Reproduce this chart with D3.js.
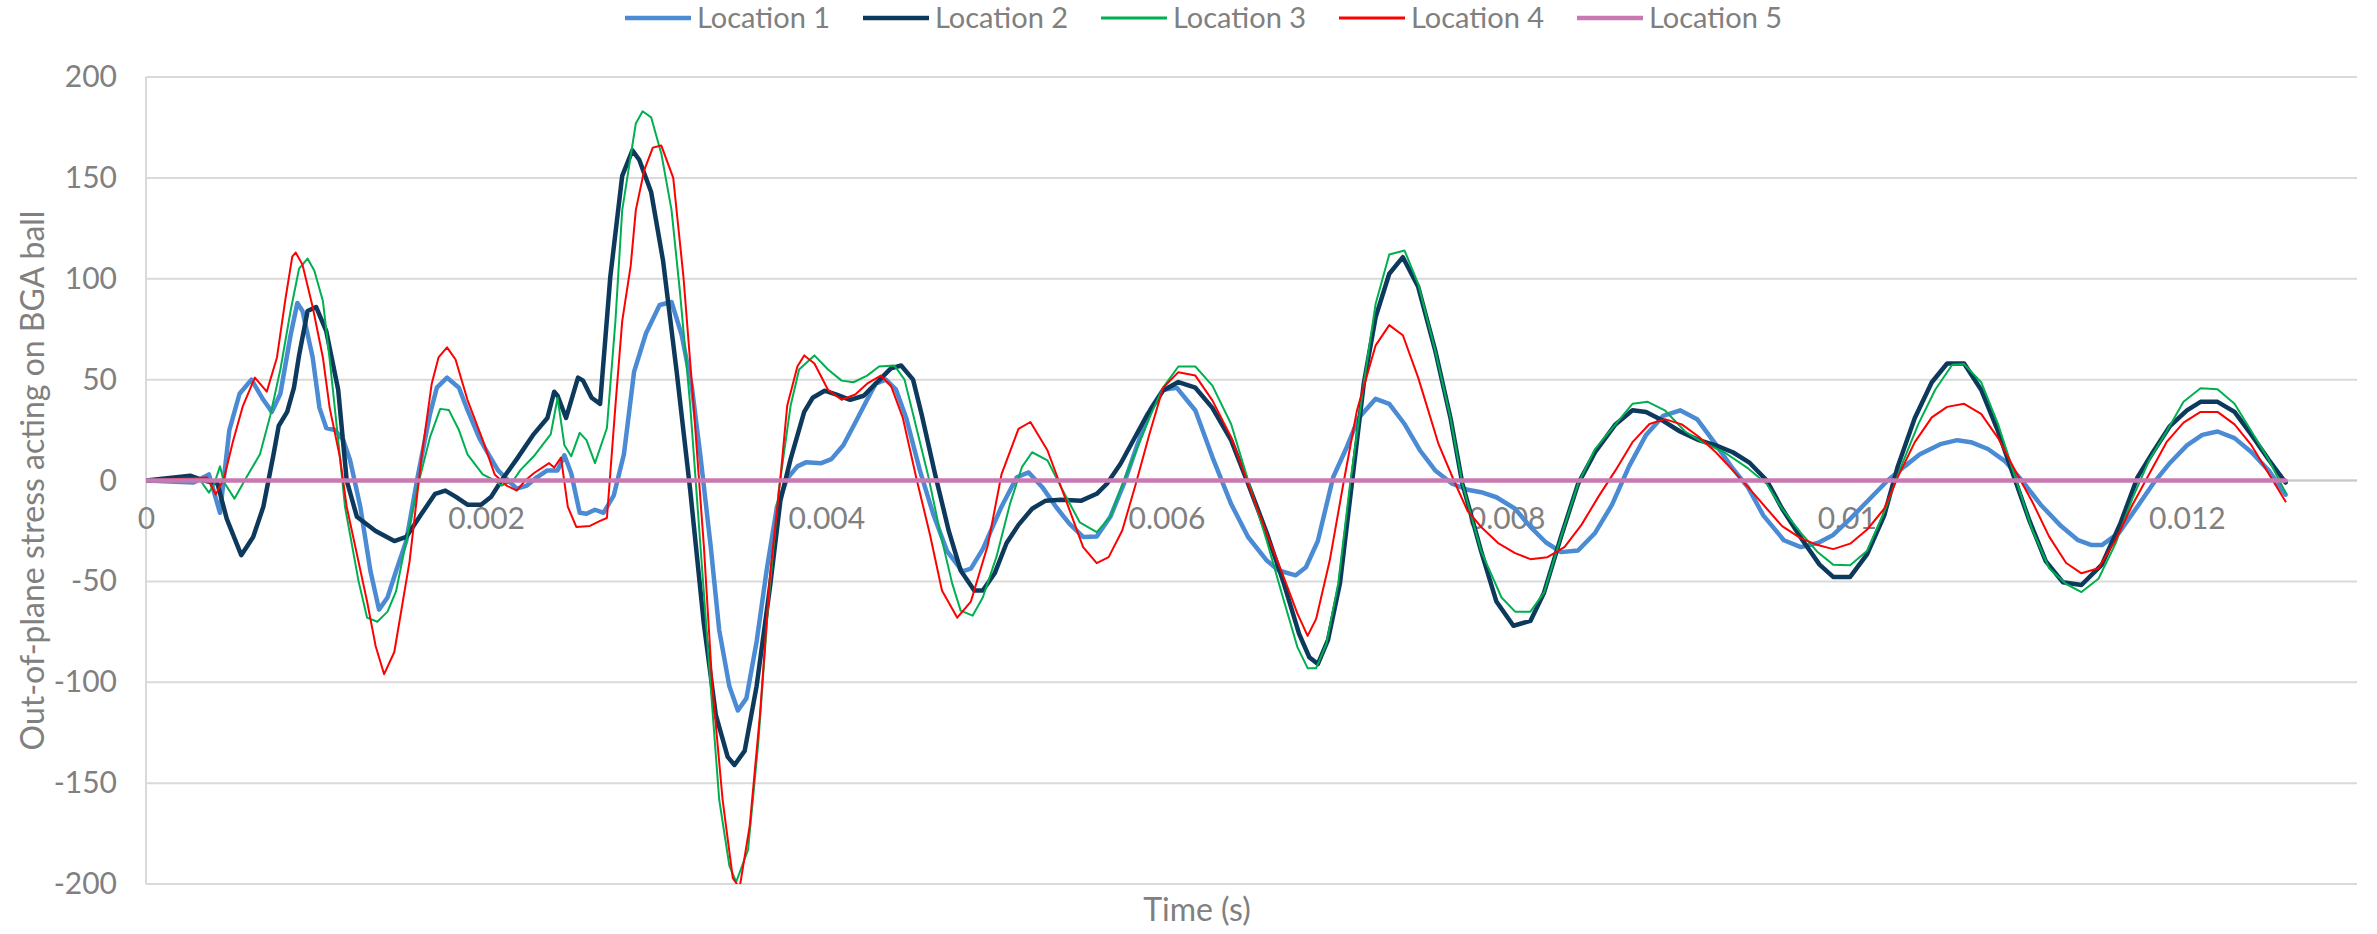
<!DOCTYPE html>
<html>
<head>
<meta charset="utf-8">
<script src="https://cdn.jsdelivr.net/npm/d3@7"></script>
<style>
  html, body { margin: 0; padding: 0; background: #ffffff; }
  svg { display: block; }
  text { font-family: Lato, "Noto Sans", sans-serif; fill: #808080; }
</style>
</head>
<body>
<svg id="chart" width="2377" height="934"></svg>
<script>
// Out-of-plane stress on the BGA ball at five locations, [time (ms), stress]
const location1 = [[0,0],[0.28,-1],[0.37,3],[0.435,-16],[0.49,25],[0.55,43],[0.62,50],[0.69,40],[0.74,34],[0.79,43],[0.85,72],[0.89,88],[0.92,84],[0.98,61],[1.02,36],[1.06,26],[1.11,25],[1.16,20],[1.2,10],[1.26,-13],[1.32,-45],[1.37,-64],[1.42,-58],[1.47,-45],[1.53,-30],[1.6,3],[1.67,33],[1.71,46],[1.77,51],[1.84,46],[1.89,35],[1.96,21],[2.0,15],[2.07,5],[2.13,0],[2.18,-4],[2.24,-2.5],[2.3,1.7],[2.36,5],[2.42,5],[2.46,12.5],[2.5,3.6],[2.55,-16],[2.59,-16.5],[2.64,-14.5],[2.69,-16],[2.75,-7.5],[2.81,13],[2.87,54],[2.94,73],[3.02,87],[3.09,88.5],[3.15,72],[3.21,46],[3.26,12],[3.32,-32.5],[3.37,-74],[3.43,-102],[3.48,-114],[3.53,-108],[3.59,-80],[3.65,-44],[3.71,-13],[3.77,1],[3.83,7],[3.88,9],[3.97,8.6],[4.03,10.6],[4.1,17.5],[4.17,28.6],[4.24,40],[4.29,48],[4.35,50],[4.41,45],[4.47,31],[4.55,5],[4.63,-17],[4.71,-35],[4.8,-45],[4.85,-43.7],[4.92,-34],[5.03,-13],[5.12,1.6],[5.19,4],[5.27,-3.3],[5.35,-13],[5.43,-21.5],[5.51,-28],[5.59,-27.8],[5.67,-18],[5.75,-1.6],[5.83,18],[5.91,36],[5.98,45],[6.06,46],[6.17,34.7],[6.27,11.6],[6.38,-11.6],[6.48,-28],[6.59,-39.7],[6.66,-44.6],[6.76,-47],[6.82,-43],[6.89,-30],[6.98,1.6],[7.06,16.5],[7.13,31],[7.23,40.5],[7.31,38],[7.4,28],[7.49,15],[7.58,5],[7.68,-1.6],[7.77,-4.6],[7.85,-5.8],[7.94,-8.3],[8.05,-14],[8.14,-23],[8.23,-30.6],[8.32,-35.5],[8.42,-34.7],[8.52,-26],[8.62,-12],[8.72,7],[8.82,22.6],[8.92,32],[9.02,34.8],[9.12,30.4],[9.22,19],[9.32,7],[9.42,-3.5],[9.51,-17.4],[9.63,-29.6],[9.73,-33],[9.83,-31],[9.92,-27],[10.02,-19],[10.12,-10.4],[10.24,0],[10.34,7],[10.43,13],[10.55,18],[10.65,20],[10.73,19],[10.83,15.6],[10.93,9.6],[11.03,0],[11.14,-12],[11.26,-22.6],[11.36,-29.6],[11.44,-32],[11.5,-32],[11.6,-26],[11.7,-14],[11.8,-1.7],[11.9,8.7],[12.0,17.4],[12.09,22.6],[12.18,24.3],[12.28,21],[12.38,14],[12.48,5],[12.58,-7]];

const location2 = [[0,0],[0.26,2.4],[0.34,0],[0.42,-1.5],[0.475,-19],[0.56,-37],[0.63,-28],[0.69,-13],[0.75,13],[0.78,27],[0.83,34],[0.87,46],[0.9,62],[0.95,84],[1.0,86],[1.06,74],[1.13,45],[1.18,0],[1.24,-18],[1.35,-25],[1.46,-30],[1.53,-28],[1.62,-16.5],[1.7,-6.6],[1.76,-5],[1.82,-8],[1.89,-12],[1.97,-12],[2.03,-8],[2.09,0],[2.18,10.6],[2.28,23],[2.36,31],[2.4,44],[2.42,42],[2.47,31],[2.54,51],[2.57,49.5],[2.62,41],[2.67,38],[2.73,101],[2.8,151],[2.86,163.6],[2.9,159],[2.97,143],[3.04,109],[3.12,54],[3.2,-5],[3.28,-71],[3.35,-116],[3.42,-137],[3.46,-141],[3.52,-134],[3.59,-102],[3.67,-52],[3.73,-10],[3.79,10.6],[3.87,34],[3.92,41],[3.99,44.5],[4.06,42.6],[4.14,40],[4.22,42],[4.29,48],[4.38,55.6],[4.44,57],[4.51,50],[4.56,33],[4.64,3],[4.72,-25],[4.79,-44.6],[4.87,-54.5],[4.92,-54.5],[4.99,-46],[5.06,-31],[5.13,-22],[5.21,-14],[5.29,-10],[5.38,-9.6],[5.5,-10],[5.59,-6.6],[5.65,-1.6],[5.73,8.3],[5.81,20.7],[5.89,33],[5.98,44.6],[6.07,48.8],[6.17,46],[6.27,36],[6.38,20],[6.48,-1.6],[6.59,-26],[6.69,-51],[6.78,-76],[6.84,-87.6],[6.89,-91],[6.95,-79],[7.02,-51],[7.09,-1.6],[7.16,48],[7.23,81],[7.31,102.5],[7.39,110.7],[7.48,96],[7.58,64.5],[7.67,31],[7.74,-1.6],[7.85,-35],[7.94,-60],[8.04,-72],[8.14,-69.6],[8.22,-55.6],[8.32,-27.8],[8.42,-1.7],[8.52,14],[8.64,27.8],[8.74,34.8],[8.82,34],[8.92,29.6],[9.02,24.3],[9.13,20],[9.23,17.4],[9.33,14],[9.43,8.7],[9.53,0],[9.62,-14],[9.74,-29.6],[9.84,-41.7],[9.92,-47.8],[10.02,-47.8],[10.12,-36.5],[10.22,-17.4],[10.3,7],[10.4,31],[10.5,48.7],[10.59,58],[10.69,58],[10.79,45],[10.89,24.3],[10.97,5],[11.07,-19],[11.17,-40],[11.27,-50.4],[11.38,-51.8],[11.5,-41.7],[11.61,-21],[11.71,1.7],[11.8,14],[11.9,27],[12.0,34.8],[12.08,39],[12.18,39],[12.28,34],[12.38,22.6],[12.48,10.4],[12.58,-1]];

const location3 = [[0,0],[0.32,0],[0.37,-6],[0.4,-2],[0.435,7],[0.46,-1],[0.52,-9],[0.59,1.5],[0.67,13],[0.73,32],[0.79,55],[0.85,84],[0.9,105],[0.95,110],[0.99,104],[1.04,89],[1.08,60],[1.13,20],[1.17,-13],[1.25,-50],[1.3,-68],[1.36,-70],[1.42,-65],[1.47,-55],[1.53,-30],[1.6,-2],[1.67,21.5],[1.73,35.5],[1.78,35],[1.84,25],[1.89,13],[1.98,3],[2.05,0],[2.09,-2.5],[2.16,0],[2.2,5],[2.28,12],[2.38,23],[2.42,41],[2.46,17.5],[2.5,12],[2.55,23.6],[2.59,20],[2.64,8.6],[2.71,26],[2.76,79],[2.8,134],[2.88,177],[2.92,183],[2.97,180],[3.03,162],[3.09,134],[3.14,93],[3.2,37],[3.26,-32.5],[3.32,-102],[3.37,-158],[3.43,-191],[3.47,-199],[3.54,-183],[3.6,-130],[3.66,-60],[3.72,-5],[3.79,37],[3.84,55],[3.93,62],[4.01,55],[4.09,49.5],[4.16,48.7],[4.24,52],[4.31,56.5],[4.4,57],[4.46,50],[4.53,26],[4.6,2],[4.67,-26],[4.74,-51],[4.79,-64.5],[4.86,-67],[4.92,-58],[5.0,-38],[5.08,-11.6],[5.15,6.6],[5.21,14],[5.3,10],[5.38,-3.3],[5.49,-20.7],[5.59,-25.6],[5.67,-18],[5.75,0],[5.83,16.5],[5.91,33],[5.98,46],[6.07,56.5],[6.17,56.5],[6.27,47],[6.38,28],[6.48,0],[6.59,-30],[6.69,-59.5],[6.77,-82.6],[6.83,-93],[6.88,-93],[6.94,-81],[7.01,-51],[7.08,-1.6],[7.16,48],[7.23,87.6],[7.31,112],[7.4,114],[7.48,97.5],[7.58,64.5],[7.67,31],[7.74,-1.6],[7.85,-35],[7.97,-58],[8.05,-65],[8.14,-65],[8.22,-55.6],[8.32,-27.8],[8.42,-1.7],[8.52,15.6],[8.64,27.8],[8.74,38],[8.83,39],[8.93,34.8],[9.05,24.3],[9.15,19],[9.28,14],[9.42,6],[9.53,-1.7],[9.62,-14],[9.73,-26],[9.83,-35.6],[9.92,-41.7],[10.02,-42],[10.12,-34.8],[10.22,-15.6],[10.32,7],[10.42,27.8],[10.52,45],[10.62,57.4],[10.69,57.7],[10.79,48.7],[10.89,27.8],[10.99,1.7],[11.09,-24.3],[11.19,-43.5],[11.29,-51.3],[11.38,-55.3],[11.48,-48.7],[11.58,-31.3],[11.68,-8.7],[11.78,10.4],[11.88,24.3],[11.98,39],[12.08,45.7],[12.18,45.2],[12.28,38],[12.38,24.3],[12.48,10.4],[12.58,-6]];

const location4 = [[0,0],[0.36,1.5],[0.41,-7],[0.46,1.5],[0.51,19],[0.57,37],[0.64,51],[0.71,44],[0.77,61],[0.82,90],[0.86,111],[0.88,113],[0.92,107],[0.98,86],[1.04,61],[1.08,36],[1.14,11.6],[1.18,-13],[1.3,-60],[1.35,-82],[1.4,-96],[1.46,-85],[1.55,-40],[1.62,11.6],[1.68,48],[1.72,61],[1.77,66],[1.82,60],[1.89,40],[1.98,20],[2.05,3],[2.12,-2.5],[2.18,-5],[2.23,0],[2.28,3.6],[2.37,8.6],[2.4,6.4],[2.44,11.4],[2.48,-13],[2.53,-23],[2.61,-22.5],[2.67,-20],[2.71,-18.6],[2.76,37],[2.8,79],[2.85,106.5],[2.88,134],[2.93,154],[2.98,165],[3.03,166],[3.1,150],[3.16,101],[3.22,37],[3.28,-32.5],[3.33,-102],[3.39,-158],[3.45,-197],[3.49,-202],[3.55,-171],[3.61,-116],[3.67,-46],[3.73,1],[3.77,37],[3.83,56.5],[3.87,62],[3.93,58],[4.01,45],[4.09,40],[4.17,42.6],[4.24,48],[4.32,52],[4.38,47],[4.45,31],[4.53,1],[4.61,-27],[4.68,-54.5],[4.77,-68],[4.85,-60],[4.95,-32],[5.03,3],[5.13,25.6],[5.2,29],[5.3,15],[5.41,-10],[5.51,-33],[5.59,-41],[5.66,-38],[5.74,-24.8],[5.82,-1.6],[5.9,23],[5.98,46],[6.07,53.7],[6.17,52],[6.27,39.7],[6.38,21.5],[6.48,-1.6],[6.59,-26.4],[6.69,-48],[6.77,-66],[6.83,-77],[6.88,-68.6],[6.96,-39.7],[7.04,-1.6],[7.12,34.7],[7.23,67],[7.31,77],[7.39,72],[7.48,51],[7.6,18],[7.69,0],[7.77,-15],[7.85,-23],[7.95,-31],[8.05,-36],[8.14,-39],[8.24,-38],[8.34,-33],[8.44,-22],[8.54,-8],[8.64,5],[8.74,19],[8.84,28],[8.93,30.4],[9.03,27.8],[9.13,21.7],[9.23,14],[9.33,5],[9.43,-4.3],[9.53,-14],[9.62,-22.6],[9.73,-28.7],[9.83,-32],[9.92,-34],[10.02,-31.3],[10.12,-24.3],[10.22,-14],[10.3,1.7],[10.4,19],[10.5,31.3],[10.59,36.5],[10.69,38],[10.79,33],[10.89,21],[10.99,5],[11.09,-10.4],[11.19,-27.8],[11.29,-40.9],[11.38,-46],[11.48,-43.5],[11.58,-29.6],[11.68,-12],[11.78,3.5],[11.88,19],[11.98,28.7],[12.08,34],[12.18,34],[12.28,27.8],[12.38,17.4],[12.48,3.5],[12.58,-10.4]];

const location5 = [[0,0],[1,0],[2,0],[3,0],[4,0],[5,0],[6,0],[7,0],[8,0],[9,0],[10,0],[11,0],[12,0],[12.58,0]];

const seriesNames = ["Location 1", "Location 2", "Location 3", "Location 4", "Location 5"];
const seriesColors = ["#4a8bd4", "#0d3a5c", "#00b050", "#ff0000", "#c879b2"];
const seriesWidths = [4.5, 4.5, 2, 2, 4.5];

const xTicks = [0, 0.002, 0.004, 0.006, 0.008, 0.010, 0.012];
const xTickLabels = ["0", "0.002", "0.004", "0.006", "0.008", "0.01", "0.012"];
const yTicks = [-200, -150, -100, -50, 0, 50, 100, 150, 200];

const series = [location1, location2, location3, location4, location5];

const svg = d3.select("#chart");
const plot = { left: 146, right: 2357, top: 77, bottom: 884 };

const x = d3.scaleLinear().domain([0, 0.013]).range([plot.left, plot.right]);
const y = d3.scaleLinear().domain([-200, 200]).range([plot.bottom, plot.top]);

svg.append("defs").append("clipPath").attr("id", "plot-clip")
  .append("rect")
  .attr("x", plot.left).attr("y", plot.top)
  .attr("width", plot.right - plot.left).attr("height", plot.bottom - plot.top);

// horizontal gridlines
svg.append("g").attr("class", "grid")
  .selectAll("line").data(yTicks).join("line")
  .attr("x1", plot.left).attr("x2", plot.right)
  .attr("y1", d => y(d)).attr("y2", d => y(d))
  .attr("stroke", "#d9d9d9").attr("stroke-width", 2);

// vertical axis line
svg.append("line")
  .attr("x1", plot.left).attr("x2", plot.left)
  .attr("y1", plot.top).attr("y2", plot.bottom)
  .attr("stroke", "#d9d9d9").attr("stroke-width", 2);

// horizontal axis through zero
svg.append("line")
  .attr("x1", plot.left).attr("x2", plot.right)
  .attr("y1", y(0)).attr("y2", y(0))
  .attr("stroke", "#c8c8c8").attr("stroke-width", 2);

// y axis labels
const yAxis = d3.axisLeft(y).tickValues(yTicks).tickSize(0).tickPadding(29)
  .tickFormat(d => String(d));
const gy = svg.append("g").attr("transform", `translate(${plot.left},0)`).call(yAxis);
gy.select(".domain").remove();
gy.selectAll("text").style("font-size", "30px").attr("fill", "#808080")
  .style("font-family", "Lato, 'Noto Sans', sans-serif");

// x axis labels, sitting under the zero line
const xAxis = d3.axisBottom(x).tickValues(xTicks).tickSize(0).tickPadding(27)
  .tickFormat((d, i) => xTickLabels[i]);
const gx = svg.append("g").attr("transform", `translate(0,${y(0)})`).call(xAxis);
gx.select(".domain").remove();
gx.selectAll("text").style("font-size", "30px").attr("fill", "#808080")
  .style("font-family", "Lato, 'Noto Sans', sans-serif");

// series lines
const line = d3.line()
  .x(d => x(d[0] / 1000))
  .y(d => y(d[1]));

svg.append("g").attr("clip-path", "url(#plot-clip)")
  .selectAll("path").data(series).join("path")
  .attr("d", line)
  .attr("fill", "none")
  .attr("stroke", (d, i) => seriesColors[i])
  .attr("stroke-width", (d, i) => seriesWidths[i])
  .attr("stroke-linejoin", "round")
  .attr("stroke-linecap", "round");

// axis titles
svg.append("text")
  .attr("transform", `translate(33,${(plot.top + plot.bottom) / 2}) rotate(-90)`)
  .attr("text-anchor", "middle")
  .attr("dy", "0.35em")
  .style("font-size", "32px")
  .text("Out-of-plane stress acting on BGA ball");

svg.append("text")
  .attr("x", 1197).attr("y", 921)
  .attr("text-anchor", "middle")
  .style("font-size", "32px")
  .text("Time (s)");

// legend
const legend = svg.append("g").attr("class", "legend")
  .selectAll("g").data(seriesNames).join("g")
  .attr("transform", (d, i) => `translate(${625 + i * 238},18)`);
legend.append("line")
  .attr("x1", 0).attr("x2", 66).attr("y1", 0).attr("y2", 0)
  .attr("stroke", (d, i) => seriesColors[i])
  .attr("stroke-width", (d, i) => Math.max(seriesWidths[i], 3));
legend.append("text")
  .attr("x", 72).attr("dy", "0.36em")
  .style("font-size", "29px")
  .text(d => d);
</script>
</body>
</html>
